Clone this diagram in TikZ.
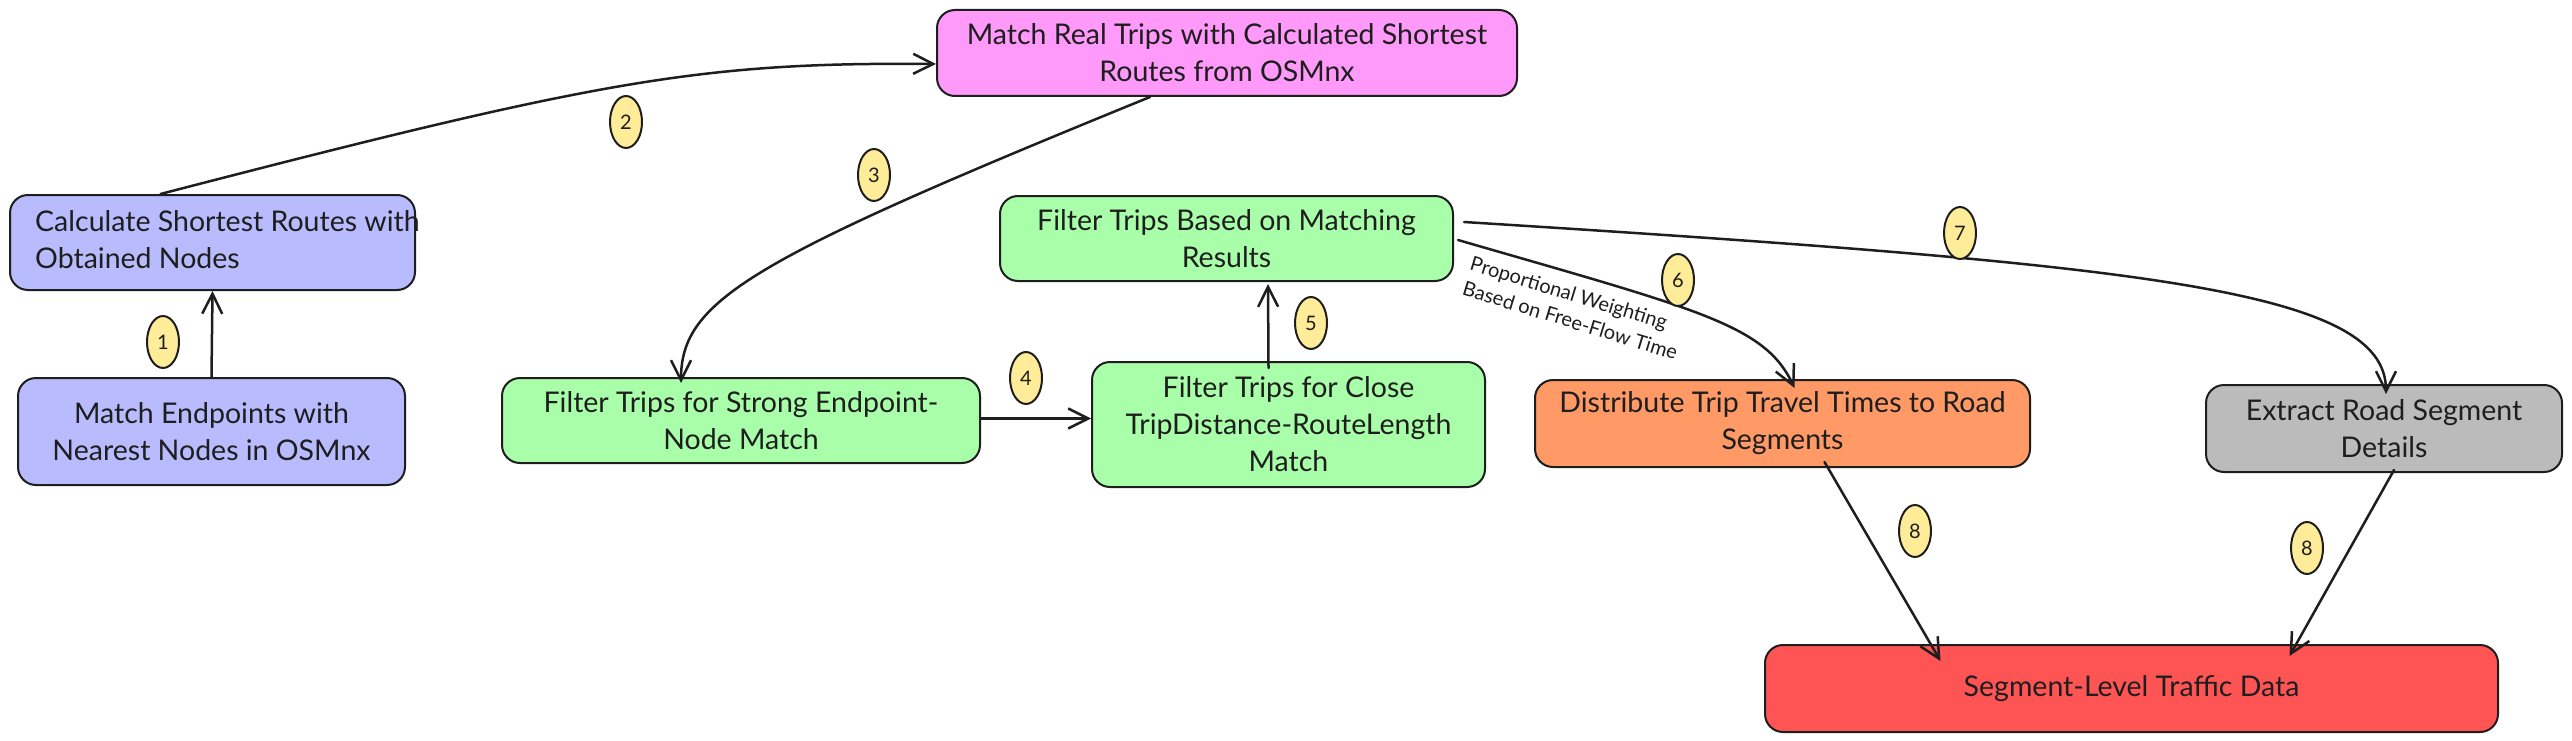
\documentclass[tikz,border=0pt]{standalone}
\usepackage{fontspec}
\setmainfont{Lato}
\usetikzlibrary{arrows.meta,shapes.geometric}
\definecolor{ink}{HTML}{1E1E1E}
\definecolor{lav}{HTML}{B9BBFF}
\definecolor{pinkc}{HTML}{FF99FA}
\definecolor{greenc}{HTML}{A9FFA9}
\definecolor{orangec}{HTML}{FF9966}
\definecolor{greyc}{HTML}{BBBBBB}
\definecolor{redc}{HTML}{FF5454}
\definecolor{badgey}{HTML}{FFEC99}
\begin{document}
\begin{tikzpicture}[x=1pt,y=-1pt,
  box/.style={draw=ink, line width=2pt, rounded corners=18pt, text=ink, align=center,
    font=\fontsize{28.5}{37}\selectfont, inner sep=0pt},
  badge/.style={ellipse, draw=ink, line width=2pt, fill=badgey, minimum width=32pt,
    minimum height=52pt, inner sep=0pt, font=\fontsize{20}{20}\selectfont, text=ink},
  conn/.style={draw=ink, line width=2.5pt, line cap=round,
    -{Straight Barb[length=20pt,width=20pt]}},
  elabel/.style={font=\fontsize{20}{26}\selectfont, text=ink, align=left, inner sep=0pt}]
\path[use as bounding box, fill=white] (0,0) rectangle (2572,741);

% boxes
\node[box, fill=lav, minimum width=405pt, minimum height=95pt] (A) at (212.5,242.5) {};
\node[anchor=west, align=left, font=\fontsize{28.5}{37}\selectfont, text=ink, inner sep=0pt] (At) at (35,240)
  {Calculate Shortest Routes with\\Obtained Nodes};
\node[box, fill=lav, minimum width=387pt, minimum height=107pt] (B) at (211.5,431.5)
  {Match Endpoints with\\Nearest Nodes in OSMnx};
\node[box, fill=pinkc, minimum width=580pt, minimum height=86pt] (C) at (1227,53)
  {Match Real Trips with Calculated Shortest\\Routes from OSMnx};
\node[box, fill=greenc, minimum width=453pt, minimum height=85pt] (D) at (1226.5,238.5)
  {Filter Trips Based on Matching\\Results};
\node[box, fill=greenc, minimum width=478pt, minimum height=85pt] (E) at (741,420.5)
  {Filter Trips for Strong Endpoint-\\Node Match};
\node[box, fill=greenc, minimum width=393pt, minimum height=125pt] (F) at (1288.5,424.5)
  {Filter Trips for Close\\TripDistance-RouteLength\\Match};
\node[box, fill=orangec, minimum width=495pt, minimum height=87pt] (G) at (1782.5,423.5)
  {Distribute Trip Travel Times to Road\\Segments};
\node[box, fill=greyc, minimum width=356pt, minimum height=87pt] (H) at (2384,428.5)
  {Extract Road Segment\\Details};
\node[box, fill=redc, minimum width=733pt, minimum height=87pt] (I) at (2131.5,688.5)
  {Segment-Level Traffic Data};

% connectors
\draw[conn] (B.north) -- (A.south);
\draw[conn] ([xshift=-52pt]A.north) .. controls (600,80) and (700,62) .. ([yshift=-11pt]C.west);
\draw[conn] ([xshift=-77pt]C.south) .. controls (750,260) and (681,300) .. ([xshift=-60pt,yshift=-6pt]E.north);
\draw[conn] ([yshift=2pt]E.east) -- ([yshift=6pt]F.west);
\draw[conn] ([xshift=-20pt,yshift=-7pt]F.north) -- ([xshift=41.5pt,yshift=-2pt]D.south);
\coordinate (d6) at ([xshift=4pt,yshift=-1.5pt]D.east);
\coordinate (d7) at ([xshift=10pt,yshift=16.5pt]D.east);
\draw[conn] (d6) .. controls (1700,310) and (1765,325) .. ([xshift=12pt,yshift=-9pt]G.north);
\draw[conn] (d7) .. controls (2150,265) and (2386,290) .. ([xshift=2pt,yshift=-10pt]H.north);
\draw[conn] ([xshift=42pt,yshift=6pt]G.south) -- ([xshift=-191pt,yshift=-17pt]I.north);
\draw[conn] ([xshift=10pt,yshift=3pt]H.south) -- ([xshift=158pt,yshift=-12pt]I.north);

% edge label
\node[elabel, rotate=-17] (L6) at (1574,308) {Proportional Weighting\\Based on Free-Flow Time};

% badges
\node[badge] (b1) at (163,342) {1};
\node[badge] (b2) at (626,122) {2};
\node[badge] (b3) at (874,175) {3};
\node[badge] (b4) at (1026,378) {4};
\node[badge] (b5) at (1311,323) {5};
\node[badge] (b6) at (1678,280) {6};
\node[badge] (b7) at (1960,233) {7};
\node[badge] (b8a) at (1915,531) {8};
\node[badge] (b8b) at (2307,548) {8};
\end{tikzpicture}
\end{document}
